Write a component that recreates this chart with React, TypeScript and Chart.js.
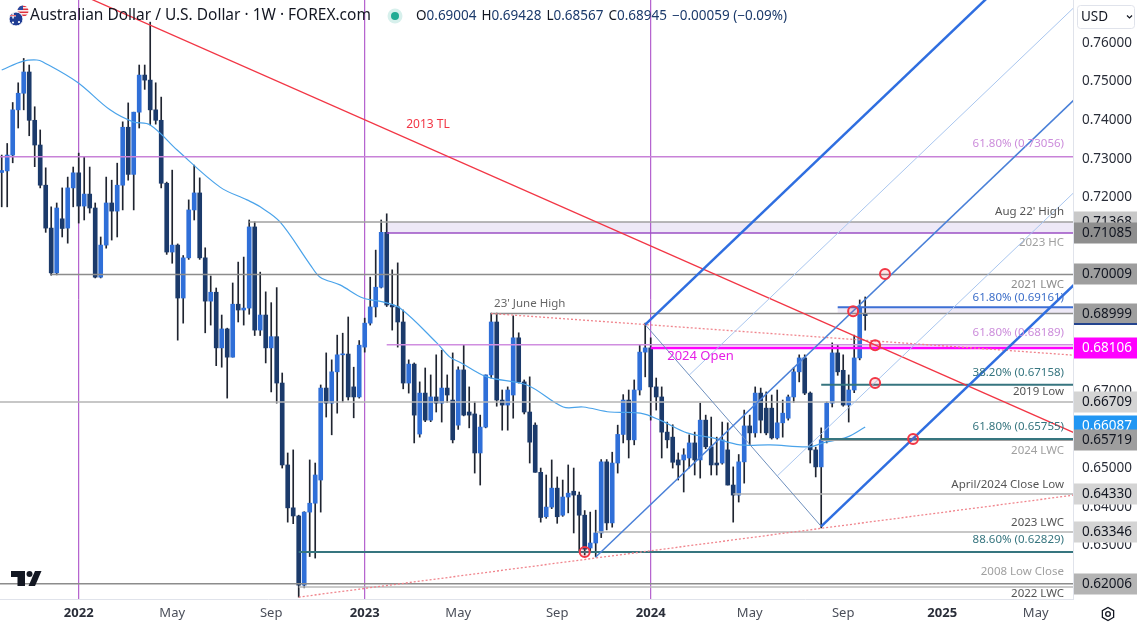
import React, { useEffect, useRef } from 'react';
import { Chart, registerables } from 'chart.js';

Chart.register(...registerables);

const FONT = '"Noto Sans", "DejaVu Sans", sans-serif';

// Weekly AUD/USD candles: index 0 = week of 27 Sep 2021 ... index 157 = week of 30 Sep 2024
const OPEN = [
  0.7265, 0.7269, 0.7310, 0.7427, 0.7470, 0.7525, 0.7400, 0.7336, 0.7232, 0.7121,
  0.7005, 0.7145, 0.7121, 0.7225, 0.7264, 0.7178, 0.7209, 0.7173, 0.6994, 0.7077,
  0.7186, 0.7165, 0.7232, 0.7382, 0.7260, 0.7421, 0.7517, 0.7504, 0.7427, 0.7400,
  0.7237, 0.7059, 0.7077, 0.6940, 0.7044, 0.7168, 0.7212, 0.7044, 0.6932, 0.6955,
  0.6811, 0.6860, 0.6787, 0.6924, 0.6909, 0.6914, 0.7124, 0.6857, 0.6896, 0.6811,
  0.6840, 0.6720, 0.6508, 0.6397, 0.6376, 0.6197, 0.6386, 0.6409, 0.6469, 0.6707,
  0.6668, 0.6749, 0.6793, 0.6795, 0.6710, 0.6684, 0.6813, 0.6875, 0.6917, 0.6968,
  0.7110, 0.6922, 0.6917, 0.6878, 0.6720, 0.6769, 0.6588, 0.6694, 0.6624, 0.6684,
  0.6668, 0.6707, 0.6676, 0.6611, 0.6754, 0.6645, 0.6640, 0.6539, 0.6606, 0.6741,
  0.6878, 0.6676, 0.6663, 0.6689, 0.6837, 0.6723, 0.6645, 0.6611, 0.6489, 0.6374,
  0.6399, 0.6448, 0.6378, 0.6425, 0.6440, 0.6430, 0.6378, 0.6293, 0.6306, 0.6332,
  0.6516, 0.6358, 0.6513, 0.6587, 0.6676, 0.6573, 0.6702, 0.6800, 0.6811, 0.6710,
  0.6684, 0.6593, 0.6580, 0.6521, 0.6521, 0.6526, 0.6565, 0.6521, 0.6624, 0.6555,
  0.6513, 0.6513, 0.6547, 0.6456, 0.6430, 0.6516, 0.6609, 0.6591, 0.6694, 0.6655,
  0.6655, 0.6578, 0.6617, 0.6629, 0.6684, 0.6749, 0.6785, 0.6694, 0.6547, 0.6503,
  0.6573, 0.6668, 0.6798, 0.6753, 0.6663, 0.6702, 0.6785, 0.69004,
];
const HIGH = [
  0.7310, 0.7340, 0.7446, 0.7497, 0.7560, 0.7543, 0.7435, 0.7375, 0.7277, 0.7176,
  0.7186, 0.7225, 0.7253, 0.7279, 0.7315, 0.7305, 0.7279, 0.7186, 0.7098, 0.7253,
  0.7245, 0.7289, 0.7396, 0.7445, 0.7421, 0.7543, 0.7543, 0.7654, 0.7497, 0.7460,
  0.7240, 0.7271, 0.7080, 0.7050, 0.7194, 0.7284, 0.7251, 0.7070, 0.6997, 0.6966,
  0.6896, 0.6862, 0.6979, 0.7033, 0.7046, 0.7142, 0.7137, 0.7007, 0.6956, 0.6928,
  0.6967, 0.6746, 0.6539, 0.6547, 0.6378, 0.6387, 0.6521, 0.6513, 0.6715, 0.6798,
  0.6780, 0.6844, 0.6849, 0.6891, 0.6761, 0.6830, 0.6888, 0.6994, 0.7064, 0.7142,
  0.7158, 0.7013, 0.7031, 0.6909, 0.6780, 0.6772, 0.6723, 0.6759, 0.6741, 0.6793,
  0.6805, 0.6741, 0.6798, 0.6762, 0.6818, 0.6710, 0.6671, 0.6637, 0.6741, 0.6901,
  0.6901, 0.6702, 0.6710, 0.6894, 0.6850, 0.6728, 0.6736, 0.6617, 0.6500, 0.6482,
  0.6521, 0.6477, 0.6469, 0.6508, 0.6500, 0.6438, 0.6390, 0.6386, 0.6391, 0.6522,
  0.6522, 0.6541, 0.6611, 0.6690, 0.6702, 0.6728, 0.6818, 0.6875, 0.6837, 0.6733,
  0.6710, 0.6619, 0.6612, 0.6539, 0.6550, 0.6586, 0.6593, 0.6668, 0.6637, 0.6632,
  0.6580, 0.6619, 0.6617, 0.6503, 0.6535, 0.6650, 0.6637, 0.6710, 0.6707, 0.6697,
  0.6689, 0.6702, 0.6676, 0.6689, 0.6760, 0.6793, 0.6793, 0.6697, 0.6554, 0.6604,
  0.6671, 0.6824, 0.6818, 0.6793, 0.6741, 0.6844, 0.6935, 0.69428,
];
const LOW = [
  0.7176, 0.7176, 0.7290, 0.7380, 0.7427, 0.7360, 0.7280, 0.7225, 0.7110, 0.6999,
  0.7000, 0.7098, 0.7082, 0.7176, 0.7134, 0.7142, 0.7160, 0.6992, 0.6992, 0.7069,
  0.7090, 0.7098, 0.7168, 0.7245, 0.7168, 0.7380, 0.7480, 0.7388, 0.7390, 0.7225,
  0.7053, 0.7030, 0.6831, 0.6875, 0.7040, 0.7142, 0.7040, 0.6850, 0.6870, 0.6765,
  0.6761, 0.6681, 0.6787, 0.6878, 0.6870, 0.6898, 0.6843, 0.6843, 0.6772, 0.6697,
  0.6668, 0.6500, 0.6360, 0.6356, 0.6166, 0.6190, 0.6271, 0.6267, 0.6386, 0.6632,
  0.6586, 0.6642, 0.6671, 0.6676, 0.6630, 0.6681, 0.6800, 0.6870, 0.6891, 0.6966,
  0.6918, 0.6857, 0.6813, 0.6705, 0.6694, 0.6565, 0.6580, 0.6620, 0.6620, 0.6645,
  0.6619, 0.6670, 0.6565, 0.6600, 0.6635, 0.6604, 0.6487, 0.6456, 0.6604, 0.6733,
  0.6660, 0.6598, 0.6598, 0.6629, 0.6720, 0.6640, 0.6513, 0.6489, 0.6360, 0.6370,
  0.6395, 0.6357, 0.6375, 0.6384, 0.6332, 0.6283, 0.6275, 0.6283, 0.6270, 0.6320,
  0.6340, 0.6347, 0.6487, 0.6565, 0.6526, 0.6560, 0.6689, 0.6736, 0.6624, 0.6650,
  0.6526, 0.6552, 0.6500, 0.6469, 0.6438, 0.6500, 0.6482, 0.6474, 0.6550, 0.6482,
  0.6482, 0.6510, 0.6456, 0.6360, 0.6412, 0.6461, 0.6560, 0.6580, 0.6591, 0.6586,
  0.6575, 0.6575, 0.6580, 0.6624, 0.6670, 0.6723, 0.6690, 0.6513, 0.6477, 0.6345,
  0.6565, 0.6658, 0.6740, 0.6660, 0.6619, 0.6695, 0.6780, 0.68567,
];
const CLOSE = [
  0.7270, 0.7310, 0.7427, 0.7470, 0.7525, 0.7400, 0.7336, 0.7232, 0.7121, 0.7005,
  0.7173, 0.7120, 0.7225, 0.7264, 0.7178, 0.7209, 0.7173, 0.6994, 0.7077, 0.7186,
  0.7165, 0.7232, 0.7382, 0.7260, 0.7421, 0.7517, 0.7504, 0.7427, 0.7400, 0.7237,
  0.7059, 0.7077, 0.6940, 0.7044, 0.7168, 0.7212, 0.7044, 0.6932, 0.6955, 0.6811,
  0.6860, 0.6787, 0.6924, 0.6909, 0.6914, 0.7124, 0.6857, 0.6896, 0.6811, 0.6840,
  0.6720, 0.6508, 0.6397, 0.6376, 0.6197, 0.6386, 0.6409, 0.6482, 0.6707, 0.6668,
  0.6749, 0.6793, 0.6795, 0.6684, 0.6684, 0.6818, 0.6875, 0.6917, 0.6968, 0.7110,
  0.6922, 0.6917, 0.6878, 0.6720, 0.6769, 0.6637, 0.6694, 0.6624, 0.6684, 0.6668,
  0.6707, 0.6689, 0.6573, 0.6754, 0.6637, 0.6637, 0.6539, 0.6606, 0.6741, 0.6878,
  0.6676, 0.6663, 0.6702, 0.6837, 0.6723, 0.6645, 0.6567, 0.6489, 0.6372, 0.6399,
  0.6448, 0.6374, 0.6425, 0.6435, 0.6430, 0.6378, 0.6290, 0.6306, 0.6332, 0.6516,
  0.6358, 0.6513, 0.6587, 0.6676, 0.6573, 0.6702, 0.6800, 0.6811, 0.6710, 0.6684,
  0.6593, 0.6573, 0.6515, 0.6508, 0.6534, 0.6565, 0.6521, 0.6624, 0.6555, 0.6508,
  0.6508, 0.6573, 0.6456, 0.6430, 0.6516, 0.6609, 0.6591, 0.6694, 0.6624, 0.6591,
  0.6578, 0.6617, 0.6642, 0.6684, 0.6749, 0.6785, 0.6694, 0.6547, 0.6503, 0.6573,
  0.6668, 0.6798, 0.6749, 0.6663, 0.6702, 0.6785, 0.6914, 0.68945,
];

// 50-week moving average (week index, value)
const SMA_IDX = [0, 3.9, 6.4, 7.5, 13.7, 19.7, 23.9, 27, 31.9, 39.7, 44.6, 47, 50.6, 56.1, 57.9, 61.5, 65.7, 69.3, 72.4, 79.1, 81.5, 83.3, 88.2, 95.5, 102.1, 105.7, 110.6, 116.1, 119.7, 124.6, 129.3, 134.2, 139.7, 147, 149.3, 153.7, 157];
const SMA_VAL = [0.7530, 0.7553, 0.7556, 0.7551, 0.7499, 0.7427, 0.7396, 0.7388, 0.7323, 0.7227, 0.7194, 0.7176, 0.7137, 0.7026, 0.6994, 0.6974, 0.6940, 0.6930, 0.6914, 0.6824, 0.6787, 0.6774, 0.6736, 0.6715, 0.6658, 0.6658, 0.6645, 0.6642, 0.6624, 0.6591, 0.6578, 0.6560, 0.6560, 0.6555, 0.6565, 0.6580, 0.6606];

const X_MIN = -0.31;
const X_MAX = 194.78;
const Y_MIN = 0.61611;
const Y_MAX = 0.77113;

const Y_TICKS = [0.63, 0.64, 0.65, 0.66, 0.67, 0.68, 0.69, 0.70, 0.71, 0.72, 0.73, 0.74, 0.75, 0.76];
const X_TICK_POS = [14, 31, 49, 66, 83, 101, 118, 136, 153, 171, 188];
const X_TICK_LABELS = ['2022', 'May', 'Sep', '2023', 'May', 'Sep', '2024', 'May', 'Sep', '2025', 'May'];

const YEAR_LINES = [14, 66, 118];

// horizontal levels: price and the week they start from
const LEVEL_PRICE = [0.73056, 0.71368, 0.71085, 0.70009, 0.69161, 0.68999, 0.68189, 0.68106, 0.67158, 0.66709, 0.65719, 0.65755, 0.64330, 0.63346, 0.62829, 0.62006, 0.61922];
const LEVEL_FROM = [-1, 45, 70, 9, 152, 89, 70, 118, 149, -1, 149, 149, 133, 108, 54, -1, 54];
const LEVEL_TEXT = ['61.80% (0.73056)', "Aug 22' High", '2023 HC', '2021 LWC', '61.80% (0.69161)', '', '61.80% (0.68189)', '', '38.20% (0.67158)', '2019 Low', '2024 LWC', '61.80% (0.65755)', 'April/2024 Close Low', '2023 LWC', '88.60% (0.62829)', '2008 Low Close', '2022 LWC'];

// shaded zones [from week, upper, lower]
const BAND_FROM = [70, 152];
const BAND_TOP = [0.71368, 0.69161];
const BAND_BOTTOM = [0.71085, 0.68999];

// Andrews pitchfork pivots (week index, price)
const PF_IDX = [108, 117, 149];
const PF_PRICE = [0.6270, 0.6871, 0.6349];

// trend lines (two points each)
const TL2013_IDX = [-1, 196];
const TL2013_PRICE = [0.7822, 0.6585];
const JUNE_TL_IDX = [89, 196];
const JUNE_TL_PRICE = [0.68999, 0.6791];
const LOW_TL_IDX = [54, 196];
const LOW_TL_PRICE = [0.6166, 0.6432];

// highlighted touch points
const CIRCLE_IDX = [106, 154.8, 158.8, 158.8, 160.6, 165.7];
const CIRCLE_PRICE = [0.62829, 0.6906, 0.6818, 0.6720, 0.7002, 0.6575];

// price tags on the right axis
const BOX_PRICE = [0.71368, 0.71085, 0.70009, 0.68999, 0.68106, 0.66709, 0.66087, 0.65719, 0.64330, 0.63346, 0.62006];

const HEADER_TITLE = 'Australian Dollar / U.S. Dollar · 1W · FOREX.com';
const HEADER_OHLC = [['O', '0.69004'], ['H', '0.69428'], ['L', '0.68567'], ['C', '0.68945'], ['', '−0.00059 (−0.09%)']];

// ---------------- styles ----------------
const UP = '#2f6fd8';
const DOWN = '#1b3a6b';
const WICK = '#1f2430';
const TEAL = '#36757f';
const LEVEL_STYLE: { c: string; w: number; lc: string; dy: number }[] = [
  { c: '#c882d8', w: 1.5, lc: '#cc8ddb', dy: -13 },
  { c: '#a0a0a0', w: 1.5, lc: '#555555', dy: -10 },
  { c: '#9b4fc4', w: 1.5, lc: '#a0a0a0', dy: 10 },
  { c: '#8c8c8c', w: 1.5, lc: '#8c8c8c', dy: 10 },
  { c: '#3d6fd4', w: 2, lc: '#3d6fc9', dy: -10 },
  { c: '#8c8c8c', w: 1.5, lc: '#666', dy: -10 },
  { c: '#d08ee0', w: 1.5, lc: '#cc8ddb', dy: -12 },
  { c: '#ff00ff', w: 2.5, lc: '#ff00ff', dy: 8 },
  { c: TEAL, w: 2, lc: TEAL, dy: -12 },
  { c: '#b4b4b4', w: 1.5, lc: '#555555', dy: -10 },
  { c: '#a0a0a0', w: 1.5, lc: '#a0a0a0', dy: 10 },
  { c: TEAL, w: 2, lc: TEAL, dy: -12 },
  { c: '#b4b4b4', w: 1.5, lc: '#555555', dy: -9 },
  { c: '#b4b4b4', w: 1.5, lc: '#555555', dy: -9 },
  { c: TEAL, w: 2, lc: TEAL, dy: -12 },
  { c: '#8c8c8c', w: 1.5, lc: '#a0a0a0', dy: -12 },
  { c: '#b8b8b8', w: 1.5, lc: '#555555', dy: 7 },
];
const BOX_STYLE: { bg: string; fg: string }[] = [
  { bg: '#c8c8c8', fg: '#131722' },
  { bg: '#8e8e8e', fg: '#131722' },
  { bg: '#9e9e9e', fg: '#131722' },
  { bg: '#9e9e9e', fg: '#131722' },
  { bg: '#ff00ff', fg: '#ffffff' },
  { bg: '#d4d4d4', fg: '#131722' },
  { bg: '#2196f3', fg: '#ffffff' },
  { bg: '#9e9e9e', fg: '#131722' },
  { bg: '#d4d4d4', fg: '#131722' },
  { bg: '#d4d4d4', fg: '#131722' },
  { bg: '#b4b4b4', fg: '#131722' },
];

function seg(xs: number[], ys: number[]) {
  return xs.map((x, i) => ({ x, y: ys[i] }));
}

function lineDs(data: { x: number; y: number }[], color: string, width: number, order: number, dash: number[] = []) {
  return {
    type: 'line' as const,
    data,
    borderColor: color,
    borderWidth: width,
    borderDash: dash,
    pointRadius: 0,
    pointHoverRadius: 0,
    fill: false,
    tension: 0,
    order,
  };
}

const chromePlugin = {
  id: 'chrome',
  beforeDatasetsDraw(chart: any) {
    const { ctx, chartArea, scales } = chart;
    const xs = scales.x, ys = scales.y;
    ctx.save();
    ctx.fillStyle = 'rgba(149, 117, 205, 0.16)';
    BAND_FROM.forEach((f, i) => {
      const x0 = xs.getPixelForValue(f);
      const y0 = ys.getPixelForValue(BAND_TOP[i]);
      const y1 = ys.getPixelForValue(BAND_BOTTOM[i]);
      ctx.fillRect(x0, y0, chartArea.right - x0, y1 - y0);
    });
    ctx.restore();
  },
  afterDatasetsDraw(chart: any) {
    const { ctx, chartArea, scales } = chart;
    const xs = scales.x, ys = scales.y;
    ctx.save();
    ctx.textBaseline = 'middle';
    ctx.font = `11.5px ${FONT}`;
    ctx.textAlign = 'right';
    LEVEL_TEXT.forEach((t, i) => {
      if (!t) return;
      const st = LEVEL_STYLE[i];
      ctx.fillStyle = st.lc;
      ctx.fillText(t, chartArea.right - 9, ys.getPixelForValue(LEVEL_PRICE[i]) + st.dy);
    });
    ctx.textAlign = 'center';
    ctx.fillStyle = '#666666';
    ctx.fillText("23' June High", xs.getPixelForValue(96), ys.getPixelForValue(0.68999) - 10);
    ctx.fillStyle = '#f23645';
    ctx.font = `12px ${FONT}`;
    ctx.fillText('2013 TL', xs.getPixelForValue(77.5), ys.getPixelForValue(0.73878));
    ctx.textAlign = 'left';
    ctx.fillStyle = '#e61ee6';
    ctx.font = `13px ${FONT}`;
    ctx.fillText('2024 Open', xs.getPixelForValue(121), ys.getPixelForValue(0.68106) + 8);
    ctx.restore();
  },
  afterDraw(chart: any) {
    const { ctx, chartArea, scales, width } = chart;
    const ys = scales.y;
    ctx.save();
    ctx.textBaseline = 'middle';
    ctx.textAlign = 'left';
    ctx.font = `13.5px ${FONT}`;
    BOX_PRICE.forEach((p, i) => {
      const y = Math.round(ys.getPixelForValue(p));
      const st = BOX_STYLE[i];
      ctx.fillStyle = st.bg;
      ctx.fillRect(chartArea.right + 1, y - 10.5, width - chartArea.right - 1, 21);
      ctx.fillStyle = st.fg;
      ctx.fillText(p.toFixed(5), chartArea.right + 9, y + 0.5);
      if (p === 0.68999) {
        ctx.fillStyle = '#24448e';
        ctx.fillRect(chartArea.right + 1, y + 9, width - chartArea.right - 1, 2);
      }
    });
    // USD button
    ctx.strokeStyle = '#e0e3eb';
    ctx.lineWidth = 1;
    ctx.fillStyle = '#ffffff';
    ctx.beginPath();
    (ctx as any).roundRect(1077.5, 5.5, 57, 23, 3);
    ctx.fill();
    ctx.stroke();
    ctx.fillStyle = '#131722';
    ctx.font = `13.5px ${FONT}`;
    ctx.fillText('USD', 1081, 17);
    ctx.strokeStyle = '#131722';
    ctx.lineWidth = 1.2;
    ctx.beginPath();
    ctx.moveTo(1127, 15.5);
    ctx.lineTo(1129.5, 18);
    ctx.lineTo(1132, 15.5);
    ctx.stroke();
    // gear icon
    ctx.lineWidth = 1.3;
    ctx.beginPath();
    for (let k = 0; k < 6; k++) {
      const a = Math.PI / 6 + (k * Math.PI) / 3;
      const px = 1108 + 6.5 * Math.cos(a), py = 614 + 6.5 * Math.sin(a);
      if (k === 0) ctx.moveTo(px, py); else ctx.lineTo(px, py);
    }
    ctx.closePath();
    ctx.stroke();
    ctx.beginPath();
    ctx.arc(1108, 614, 2.3, 0, Math.PI * 2);
    ctx.stroke();
    // TradingView logo
    ctx.fillStyle = '#131722';
    ctx.fillRect(11, 571, 14, 6);
    ctx.fillRect(17.5, 571, 7.5, 15);
    ctx.beginPath();
    ctx.arc(29.5, 574, 3, 0, Math.PI * 2);
    ctx.fill();
    ctx.beginPath();
    ctx.moveTo(35, 571);
    ctx.lineTo(41.5, 571);
    ctx.lineTo(35, 586);
    ctx.lineTo(28.5, 586);
    ctx.closePath();
    ctx.fill();
    // header: flag icon
    ctx.beginPath();
    ctx.arc(23, 11, 5.5, 0, Math.PI * 2);
    ctx.fillStyle = '#ffffff';
    ctx.fill();
    ctx.save();
    ctx.clip();
    ctx.fillStyle = '#e0313c';
    for (let k = 0; k < 4; k++) ctx.fillRect(17, 5.5 + k * 3, 12, 1.6);
    ctx.fillStyle = '#2a4aa0';
    ctx.fillRect(17, 5, 6, 5);
    ctx.restore();
    ctx.beginPath();
    ctx.arc(16, 19, 7, 0, Math.PI * 2);
    ctx.fillStyle = '#1f3c93';
    ctx.fill();
    ctx.strokeStyle = '#ffffff';
    ctx.lineWidth = 1;
    ctx.stroke();
    ctx.fillStyle = '#ffffff';
    ctx.fillRect(10, 15, 6, 1.5);
    ctx.fillRect(12.3, 12.5, 1.5, 6);
    ctx.fillStyle = '#e0313c';
    ctx.fillRect(10, 15.3, 6, 0.8);
    ctx.beginPath();
    ctx.arc(19, 22, 1.1, 0, Math.PI * 2);
    ctx.arc(13, 22.5, 1.1, 0, Math.PI * 2);
    ctx.fillStyle = '#ffffff';
    ctx.fill();
    // header: title
    ctx.textAlign = 'left';
    ctx.textBaseline = 'middle';
    ctx.font = `14px ${FONT}`;
    const w = ctx.measureText(HEADER_TITLE).width;
    const size = 14 * (341 / w);
    ctx.font = `${size.toFixed(2)}px ${FONT}`;
    ctx.fillStyle = '#131722';
    ctx.fillText(HEADER_TITLE, 30, 16);
    // status dot
    ctx.beginPath();
    ctx.arc(395, 16, 7.5, 0, Math.PI * 2);
    ctx.fillStyle = 'rgba(34, 171, 148, 0.18)';
    ctx.fill();
    ctx.beginPath();
    ctx.arc(395, 16, 4, 0, Math.PI * 2);
    ctx.fillStyle = '#22ab94';
    ctx.fill();
    // OHLC
    ctx.font = `13.5px ${FONT}`;
    let x = 416;
    HEADER_OHLC.forEach(([k, v]) => {
      if (k) {
        ctx.fillStyle = '#131722';
        ctx.fillText(k, x, 16);
        x += ctx.measureText(k).width;
      }
      ctx.fillStyle = DOWN;
      ctx.fillText(v, x, 16);
      x += ctx.measureText(v).width + 5;
    });
    ctx.restore();
  },
};

export default function App() {
  const ref = useRef<HTMLCanvasElement | null>(null);

  useEffect(() => {
    document.body.style.margin = '0';
    const canvas = ref.current;
    if (!canvas) return;

    const idx = OPEN.map((_, i) => i);
    const bodies = idx.map((i) => ({ x: i, y: [OPEN[i], CLOSE[i]] }));
    const wicks = idx.map((i) => ({ x: i, y: [LOW[i], HIGH[i]] }));
    const isUp = (i: number) => CLOSE[i] >= OPEN[i];

    // pitchfork geometry from pivots
    const [ai, bi, ci] = PF_IDX;
    const [ap, bp, cp] = PF_PRICE;
    const mi = (bi + ci) / 2, mp = (bp + cp) / 2;
    const slope = (mp - ap) / (mi - ai);
    const end = X_MAX + 2;
    const ray = (i0: number, p0: number) => [{ x: i0, y: p0 }, { x: end, y: p0 + slope * (end - i0) }];

    const datasets: any[] = [];
    datasets.push({
      type: 'scatter',
      data: seg(CIRCLE_IDX, CIRCLE_PRICE),
      pointRadius: 5,
      pointHoverRadius: 5,
      pointBorderWidth: 2,
      pointBorderColor: '#f23645',
      pointBackgroundColor: 'rgba(242, 54, 69, 0.12)',
      order: 0,
    });
    datasets.push(lineDs(ray(bi, bp), '#2f6ee0', 2.5, 1));
    datasets.push(lineDs(ray(ci, cp), '#2f6ee0', 2.5, 1));
    datasets.push(lineDs(ray(ai, ap), '#4a80d8', 1.5, 1));
    datasets.push(lineDs(ray((bi + mi) / 2, (bp + mp) / 2), '#a9c6ef', 1, 1));
    datasets.push(lineDs(ray((mi + ci) / 2, (mp + cp) / 2), '#a9c6ef', 1, 1));
    datasets.push(lineDs([{ x: bi, y: bp }, { x: ci, y: cp }], '#6d8fbd', 1, 1));
    datasets.push(lineDs(seg(TL2013_IDX, TL2013_PRICE), '#f23645', 1.3, 2));
    datasets.push(lineDs(seg(JUNE_TL_IDX, JUNE_TL_PRICE), '#f0848c', 1.3, 2, [2, 2]));
    datasets.push(lineDs(seg(LOW_TL_IDX, LOW_TL_PRICE), '#f0848c', 1.3, 2, [2, 2]));
    for (let i = LEVEL_PRICE.length - 1; i >= 0; i--) {
      const st = LEVEL_STYLE[i];
      datasets.push(lineDs([{ x: LEVEL_FROM[i], y: LEVEL_PRICE[i] }, { x: end, y: LEVEL_PRICE[i] }], st.c, st.w, 3));
    }
    datasets.push({ ...lineDs(seg(SMA_IDX, SMA_VAL), '#4aa3ea', 1.2, 4), tension: 0.35 });
    datasets.push({
      type: 'bar',
      data: bodies,
      backgroundColor: idx.map((i) => (isUp(i) ? UP : DOWN)),
      borderWidth: 0,
      barThickness: 4,
      grouped: false,
      minBarLength: 1,
      order: 5,
    });
    datasets.push({
      type: 'bar',
      data: wicks,
      backgroundColor: WICK,
      borderWidth: 0,
      barThickness: 1,
      grouped: false,
      order: 6,
    });
    YEAR_LINES.forEach((yx) => datasets.push(lineDs([{ x: yx, y: Y_MIN - 1 }, { x: yx, y: Y_MAX + 1 }], '#a43fc4', 1, 7)));

    const chart = new Chart(canvas, {
      type: 'bar',
      data: { datasets },
      options: {
        animation: false,
        responsive: false,
        events: [],
        layout: { padding: 0, autoPadding: false },
        plugins: { legend: { display: false }, tooltip: { enabled: false } },
        scales: {
          x: {
            type: 'linear',
            position: 'bottom',
            min: X_MIN,
            max: X_MAX,
            offset: false,
            grid: { display: false, drawTicks: false },
            border: { display: true, color: '#e0e3eb' },
            afterBuildTicks: (s: any) => {
              s.ticks = X_TICK_POS.map((v) => ({ value: v }));
            },
            afterFit: (s: any) => {
              s.height = 24;
              s.paddingLeft = 0;
              s.paddingRight = 0;
            },
            ticks: {
              autoSkip: false,
              maxRotation: 0,
              padding: 6,
              callback: (_v: any, i: number) => X_TICK_LABELS[i],
              font: (c: any) => ({ family: FONT, size: 13, weight: /^\d+$/.test(X_TICK_LABELS[c.index] || '') ? 'bold' : 'normal' }),
              color: (c: any) => (/^\d+$/.test(X_TICK_LABELS[c.index] || '') ? '#2a2e39' : '#4a4e59'),
            },
          },
          y: {
            type: 'linear',
            position: 'right',
            min: Y_MIN,
            max: Y_MAX,
            grid: { display: false, drawTicks: false },
            border: { display: true, color: '#e0e3eb' },
            afterBuildTicks: (s: any) => {
              s.ticks = Y_TICKS.map((v) => ({ value: v }));
            },
            afterFit: (s: any) => {
              s.width = 64;
              s.paddingTop = 0;
              s.paddingBottom = 0;
            },
            ticks: {
              padding: 9,
              color: '#2a2e39',
              font: { family: FONT, size: 13.5 },
              callback: (v: any) => Number(v).toFixed(5),
            },
          },
        },
      } as any,
      plugins: [chromePlugin],
    });

    return () => chart.destroy();
  }, []);

  return (
    <div style={{ position: 'fixed', left: 0, top: 0, width: 1137, height: 623, background: '#ffffff' }}>
      <canvas ref={ref} width={1137} height={623} style={{ display: 'block' }} />
    </div>
  );
}
